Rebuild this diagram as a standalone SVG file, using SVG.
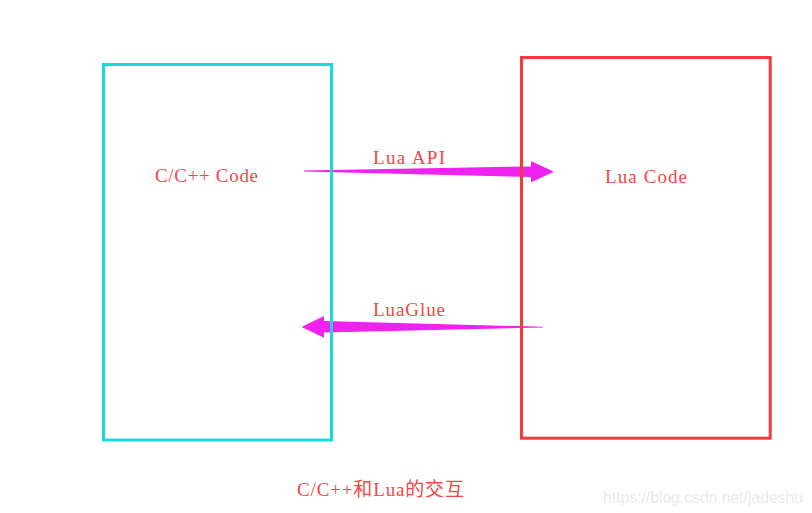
<svg xmlns="http://www.w3.org/2000/svg" width="812" height="513" viewBox="0 0 812 513">
<style>
.box{fill:none;stroke-width:3}
.lbl{font-family:"Liberation Serif","Noto Sans CJK SC",serif;font-size:19px;fill:#f64646}
.arrow{fill:#ef22ef}
</style>
<rect x="0" y="0" width="812" height="513" fill="#ffffff"/>
<g id="connectors">
<polygon class="arrow" points="304,170.6 531,166.4 531,161 554,171.8 531,182.2 531,177 304,171.4"/>
<polygon class="arrow" points="543,326.8 324,321 324,316 301.5,327 324,337.8 324,332.4 543,327.6"/>
<text class="lbl" x="373" y="164" textLength="72" lengthAdjust="spacing">Lua API</text>
<text class="lbl" x="373" y="316" textLength="72" lengthAdjust="spacing">LuaGlue</text>
</g>
<g id="cpp">
<rect class="box" x="103.5" y="64.5" width="228" height="375.5" stroke="#1bd8d8"/>
<text class="lbl" x="155" y="182" textLength="103" lengthAdjust="spacing">C/C++ Code</text>
</g>
<g id="lua">
<rect class="box" x="521.5" y="57.5" width="248.7" height="380.7" stroke="#f43a3a"/>
<text class="lbl" x="605" y="182.5" textLength="82" lengthAdjust="spacing">Lua Code</text>
</g>
<g id="caption">
<text class="lbl" x="297" y="496" textLength="167" lengthAdjust="spacing">C/C++和Lua的交互</text>
</g>
<text x="603" y="503" textLength="200" lengthAdjust="spacingAndGlyphs" style="font-family:'Liberation Sans',Arial,sans-serif;font-size:16px;fill:#eaeaea">https://blog.csdn.net/jadeshu</text>
</svg>
